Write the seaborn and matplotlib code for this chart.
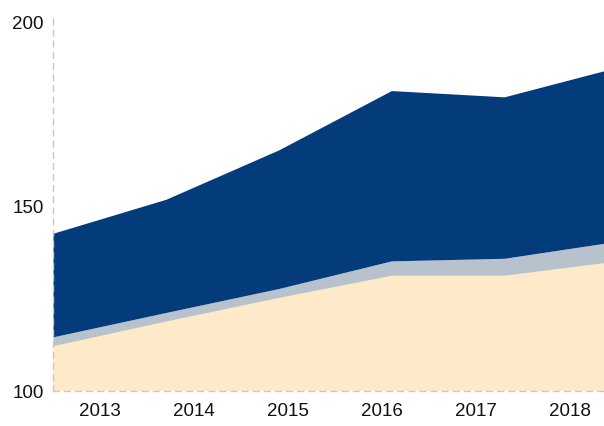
import matplotlib
matplotlib.use("Agg")
import matplotlib.pyplot as plt
import seaborn as sns
import numpy as np

years = ["2013", "2014", "2015", "2016", "2017", "2018"]
base_vals = [112.3, 119.0, 125.4, 131.4, 131.4, 135.3]
gray_vals = [2.4, 2.3, 2.4, 3.9, 4.6, 5.3]
navy_vals = [28.1, 30.7, 37.6, 46.2, 43.8, 47.2]

colors = ["#fee9c9", "#b7c2cd", "#033b7b"]

sns.set_style("white")
plt.rcParams['font.family'] = ['Liberation Sans', 'DejaVu Sans']

fig = plt.figure(figsize=(6.04, 4.26), dpi=100)
W, H = 604, 426
left, right, top, bottom = 53, 617, 15, 391
ax = fig.add_axes([left / W, 1 - bottom / H, (right - left) / W, (bottom - top) / H])

x = np.arange(len(years))
ax.stackplot(x, base_vals, gray_vals, navy_vals, colors=colors, linewidth=0)

n = len(years)
ax.set_xlim(0, n - 1)
ax.set_ylim(100, 202)
band = (n - 1) / n
ax.set_xticks([(i + 0.5) * band for i in range(n)])
ax.set_xticklabels(years)
ax.set_yticks([100, 150, 200])
ax.tick_params(axis="both", length=0, labelsize=13.5, colors="#111111")
ax.tick_params(axis="x", pad=9)
ax.tick_params(axis="y", pad=6.5)

for s in ["top", "right"]:
    ax.spines[s].set_visible(False)
for s in ["left", "bottom"]:
    ax.spines[s].set_linestyle((0, (4, 4)))
    ax.spines[s].set_color("#c3c9d2")
    ax.spines[s].set_linewidth(1.0)
    ax.spines[s].set_zorder(5)

fig.savefig("out.png", dpi=100)
